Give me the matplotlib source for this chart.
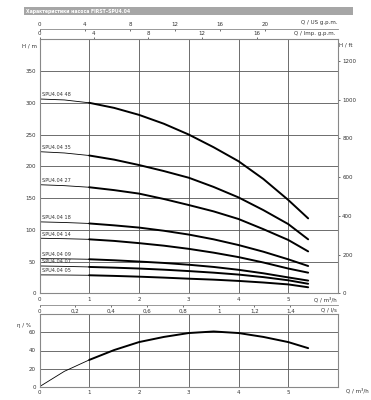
import matplotlib
matplotlib.use('Agg')
import matplotlib.pyplot as plt

# ---- data ----
Q = [0, 0.5, 1, 1.5, 2, 2.5, 3, 3.5, 4, 4.5, 5, 5.4]          # m3/h
models = ['SPU4.04 48', 'SPU4.04 35', 'SPU4.04 27', 'SPU4.04 18',
          'SPU4.04 14', 'SPU4.04 09', 'SPU4.04 07', 'SPU4.04 05']
H48 = [306, 304.5, 300, 292, 281, 267, 250, 230, 208, 180, 147, 118]
H35 = [223, 221, 217, 210.5, 202, 192.5, 182, 167.5, 151, 131, 109, 85]
H27 = [171, 169.5, 167, 162.5, 157, 148.5, 139, 129, 117, 101, 84, 66]
H18 = [112.5, 111.5, 110, 107, 103.5, 98.5, 92.5, 85, 76, 65.5, 53.5, 43]
H14 = [86.7, 86, 85, 82.5, 79, 75, 70, 64, 57, 48.5, 39, 32.5]
H09 = [54.6, 54.3, 53.6, 52, 50, 47.8, 45, 41.5, 37, 31.5, 25, 20]
H07 = [43, 42.4, 41.5, 40.4, 39, 37.2, 35, 32.5, 29.5, 25.5, 20.5, 15]
H05 = [29, 28.8, 28.4, 27.4, 26.2, 24.7, 23, 21.5, 19.5, 17, 14, 9.5]
heads = [H48, H35, H27, H18, H14, H09, H07, H05]

eff = [0, 17, 29.6, 40.5, 49.3, 55, 59.3, 61, 59.3, 55, 49.3, 42.6]  # %

q_ticks = [0, 1, 2, 3, 4, 5]
h_ticks = [0, 50, 100, 150, 200, 250, 300, 350]
ft_ticks = [0, 200, 400, 600, 800, 1000, 1200]
us_ticks = [0, 4, 8, 12, 16, 20]
imp_ticks = [0, 4, 8, 12, 16]
ls_ticks = [0, 0.2, 0.4, 0.6, 0.8, 1.0, 1.2, 1.4]
eff_ticks = [0, 20, 40, 60]
title = 'Характеристики насоса FIRST–SPU4.04'

# ---- figure ----
W, Hpx = 371, 400
fig = plt.figure(figsize=(W / 100, Hpx / 100), dpi=100)
fig.patch.set_facecolor('white')
plt.rcParams['font.family'] = ['DejaVu Sans']
FS = 4
GRID = '#555555'
SPINE = '#888888'


def rect(x0, y0, x1, y1):
    return [x0 / W, 1 - y1 / Hpx, (x1 - x0) / W, (y1 - y0) / Hpx]


# header bar
hb = fig.add_axes(rect(24, 7, 353, 15))
hb.set_facecolor('#a6a6a6')
hb.set_xticks([]); hb.set_yticks([])
for s in hb.spines.values():
    s.set_visible(False)
hb.text(0.006, 0.5, title, color='white', fontsize=3.3, fontweight='bold',
        va='center', ha='left', transform=hb.transAxes)

# main head axes
ax = fig.add_axes(rect(39.5, 39.3, 338, 293.3))
ax.set_xlim(0, 6)
ax.set_ylim(0, 400)
ax.set_xticks(q_ticks)
ax.set_yticks(h_ticks)
ax.tick_params(length=0, labelsize=FS, pad=2.5, colors='#333333')
ax.grid(True, color=GRID, lw=0.6)
ax.set_axisbelow(True)
for s in ax.spines.values():
    s.set_color(SPINE); s.set_linewidth(0.8)

for name, h in zip(models, heads):
    ax.plot(Q[:3], h[:3], color='black', lw=0.6, solid_capstyle='round')
    ax.plot(Q[2:], h[2:], color='black', lw=1.4, solid_capstyle='round')
    ax.annotate(name, xy=(0.05, h[0]), xytext=(0, 1.2), textcoords='offset points',
                fontsize=3.6, ha='left', va='bottom', color='#333333')

# right axis in ft
sec_ft = ax.secondary_yaxis('right', functions=(lambda m: m * 3.28084, lambda f: f / 3.28084))
sec_ft.set_yticks(ft_ticks)
sec_ft.tick_params(length=1.5, width=0.5, labelsize=FS, pad=1.5, colors='#333333')
sec_ft.spines['right'].set_visible(False)

# top axes US gpm and Imp gpm
sec_us = ax.secondary_xaxis(1.039, functions=(lambda q: q * 4.40287, lambda g: g / 4.40287))
sec_us.set_xticks(us_ticks)
sec_us.tick_params(length=1.5, width=0.5, labelsize=FS, pad=2, colors='#333333', direction='in')
sec_us.spines['top'].set_color(SPINE)
sec_us.spines['top'].set_linewidth(0.6)

sec_imp = ax.secondary_xaxis('top', functions=(lambda q: q * 3.66615, lambda g: g / 3.66615))
sec_imp.set_xticks(imp_ticks)
sec_imp.tick_params(length=1.5, width=0.5, labelsize=FS, pad=0.8, colors='#333333')
sec_imp.spines['top'].set_visible(False)

# lower efficiency axes
ax2 = fig.add_axes(rect(39.5, 314.3, 338, 386.7))
ax2.set_xlim(0, 6)
ax2.set_ylim(0, 80)
ax2.set_xticks(q_ticks)
ax2.set_yticks(eff_ticks)
ax2.tick_params(length=0, labelsize=FS, pad=2.5, colors='#333333')
ax2.grid(True, color=GRID, lw=0.6)
ax2.set_axisbelow(True)
for s in ax2.spines.values():
    s.set_color(SPINE); s.set_linewidth(0.8)
ax2.plot(Q[:3], eff[:3], color='black', lw=0.6, solid_capstyle='round')
ax2.plot(Q[2:], eff[2:], color='black', lw=1.4, solid_capstyle='round')

sec_ls = ax2.secondary_xaxis(1.128, functions=(lambda q: q * 0.277778, lambda l: l / 0.277778))
sec_ls.set_alignment('bottom')
sec_ls.set_xticks(ls_ticks, labels=[('%g' % v).replace('.', ',') for v in ls_ticks])
sec_ls.tick_params(length=1.5, width=0.5, labelsize=FS, pad=1.0, colors='#333333')
sec_ls.spines['bottom'].set_color(SPINE)
sec_ls.spines['bottom'].set_linewidth(0.6)

# axis captions
def ftxt(x, y, s, ha='center'):
    fig.text(x / W, 1 - y / Hpx, s, fontsize=FS, ha=ha, va='center', color='#333333')

ftxt(319, 22.7, 'Q / US g.p.m.')
ftxt(315, 34, 'Q / Imp. g.p.m.')
ftxt(30, 45.7, 'H / m')
ftxt(346, 45, 'H / ft')
ftxt(325.6, 299.5, 'Q / m³/h')
ftxt(329, 310, 'Q / l/s')
ftxt(24, 326, 'η / %')
ftxt(357, 390.7, 'Q / m³/h')

fig.savefig('out.png', dpi=100, facecolor='white')
